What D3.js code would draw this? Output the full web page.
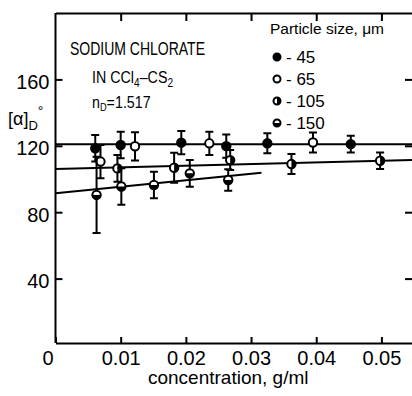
<!DOCTYPE html>
<html>
<head>
<meta charset="utf-8">
<script src="https://cdn.jsdelivr.net/npm/d3@7"></script>
<style>
  body { margin: 0; background: #fff; }
  svg { display: block; font-family: "Liberation Sans", Arial, sans-serif; }
  .axis path, .axis line { stroke: #000; stroke-width: 2; }
  .axis text { font-size: 20px; fill: #000; }
</style>
</head>
<body>
<svg width="412" height="396"></svg>
<script>
// particle size series: concentration (g/ml), [alpha]D, error half-width
const conc45 = [0.0061, 0.0100, 0.0193, 0.0262, 0.0325, 0.0453];
const rot45 = [118.5, 120.5, 121.9, 119.8, 121.5, 121];
const err45 = [8, 8, 7, 7, 6, 5];

const conc65 = [0.0069, 0.0122, 0.0236, 0.0395];
const rot65 = [110.5, 119.7, 121.5, 122];
const err65 = [10, 8.5, 7, 6];

const conc105 = [0.0095, 0.0182, 0.0268, 0.0362, 0.0498];
const rot105 = [106.4, 106.8, 111.4, 109, 111];
const err105 = [8, 9, 6, 6, 5];

const conc150 = [0.0063, 0.0101, 0.0151, 0.0206, 0.0265];
const rot150 = [90.4, 95.5, 96.4, 103.4, 99.4];
const err150 = [23, 11, 8, 8, 6.5];

// fitted lines (start and end)
const fit45 = [[0, 121], [0.055, 121]];
const fit105 = [[0, 106], [0.055, 111.5]];
const fit150 = [[0, 91.4], [0.0316, 103.8]];

const xTicks = [0, 0.01, 0.02, 0.03, 0.04, 0.05];
const yTicks = [40, 80, 120, 160];
const sizes = ['45', '65', '105', '150'];

const svg = d3.select('body svg');
const plotLeft = 55.5, plotRight = 414, plotTop = 13, plotBottom = 343;

const x = d3.scaleLinear().domain([0, 0.055]).range([plotLeft, plotRight]);
const y = d3.scaleLinear().domain([0, 200]).range([345, 13]);

// frame
svg.append('g')
    .attr('class', 'axis')
    .attr('transform', `translate(0, ${plotBottom})`)
    .call(d3.axisBottom(x).tickValues(xTicks).tickSizeInner(-6).tickSizeOuter(0).tickPadding(8)
        .tickFormat(d => d === 0 ? '0' : d3.format('.2f')(d)))
    .call(g => g.selectAll('text').attr('font-size', 19.5))
    .call(g => g.selectAll('.tick').filter(d => d === 0).select('text').attr('x', -8));

svg.append('g')
    .attr('class', 'axis')
    .attr('transform', `translate(0, ${plotTop})`)
    .call(d3.axisTop(x).tickValues(xTicks.slice(1)).tickSizeInner(-8).tickSizeOuter(0).tickFormat(''));

svg.append('g')
    .attr('class', 'axis')
    .attr('transform', `translate(${plotLeft}, 0)`)
    .call(d3.axisLeft(y).tickValues(yTicks).tickSizeInner(-7).tickSizeOuter(0).tickPadding(6))
    .call(g => g.select('.domain').attr('d', `M0,${plotBottom}V${plotTop}`))
    .call(g => g.selectAll('text').attr('font-size', 21).attr('dy', '0.45em'));

svg.append('g')
    .attr('class', 'axis')
    .attr('transform', `translate(${plotRight}, 0)`)
    .call(d3.axisRight(y).tickValues(yTicks).tickSizeInner(-9).tickSizeOuter(0).tickFormat(''));

// fitted lines
const line = d3.line().x(d => x(d[0])).y(d => y(d[1]));
[fit45, fit105, fit150].forEach(f => {
  svg.append('path')
      .attr('d', line(f))
      .attr('fill', 'none')
      .attr('stroke', '#000')
      .attr('stroke-width', 2);
});

function marker(g, kind, r) {
  g.append('circle').attr('r', r)
      .attr('fill', kind === '45' ? '#000' : '#fff')
      .attr('stroke', '#000').attr('stroke-width', 2);
  if (kind === '105') {
    g.append('path').attr('d', `M0,${-r}A${r},${r} 0 0,1 0,${r}Z`).attr('fill', '#000');
  }
  if (kind === '150') {
    g.append('path').attr('d', `M${-r},0A${r},${r} 0 0,0 ${r},0Z`).attr('fill', '#000');
  }
}

const series = [
  { kind: '45', cx: conc45, cy: rot45, e: err45 },
  { kind: '65', cx: conc65, cy: rot65, e: err65 },
  { kind: '105', cx: conc105, cy: rot105, e: err105 },
  { kind: '150', cx: conc150, cy: rot150, e: err150 }
];

series.forEach(s => {
  const pts = s.cx.map((c, i) => ({ c: c, v: s.cy[i], e: s.e[i] }));
  const pt = svg.selectAll(null).data(pts)
      .enter().append('g')
      .attr('transform', d => `translate(${x(d.c)}, 0)`);
  pt.append('path')
      .attr('d', d => `M0,${y(d.v + d.e)}V${y(d.v - d.e)}M-4,${y(d.v + d.e)}H4M-4,${y(d.v - d.e)}H4`)
      .attr('stroke', '#000')
      .attr('stroke-width', 2)
      .attr('fill', 'none');
  pt.each(function(d) {
    marker(d3.select(this).append('g').attr('transform', `translate(0, ${y(d.v)})`), s.kind, 4.2);
  });
});

// annotations
const note = svg.append('g').attr('fill', '#000');
note.append('text').attr('x', 70).attr('y', 55).attr('font-size', 17.5)
    .attr('textLength', 135).attr('lengthAdjust', 'spacingAndGlyphs').text('SODIUM CHLORATE');
const t2 = note.append('text').attr('transform', 'translate(92, 83) scale(0.84, 1)').attr('font-size', 17);
t2.append('tspan').text('IN CCl');
t2.append('tspan').attr('dy', 4).attr('font-size', 12).text('4');
t2.append('tspan').attr('dy', -4).text('\u2013CS');
t2.append('tspan').attr('dy', 4).attr('font-size', 12).text('2');
const t3 = note.append('text').attr('transform', 'translate(92, 108) scale(0.84, 1)').attr('font-size', 17);
t3.append('tspan').text('n');
t3.append('tspan').attr('dy', 3).attr('font-size', 11).text('D');
t3.append('tspan').attr('dy', -3).text('=1.517');

// y label
const yl = svg.append('text').attr('x', 8).attr('y', 125).attr('font-size', 18);
yl.append('tspan').text('[\u03b1]');
yl.append('tspan').attr('dy', 5).attr('font-size', 13).text('D');
yl.append('tspan').attr('dy', -14).attr('font-size', 14).text('\u00b0');

// x label
svg.append('text')
    .attr('x', x(0.0265)).attr('y', 384)
    .attr('text-anchor', 'middle')
    .attr('font-size', 19)
    .text('concentration, g/ml');

// legend
const legend = svg.append('g');
legend.append('text').attr('x', 270).attr('y', 34).attr('font-size', 15.5)
    .text('Particle size, \u03bcm');
const item = legend.selectAll(null).data(sizes)
    .enter().append('g')
    .attr('transform', (d, i) => `translate(277, ${57 + i * 22})`);
item.each(function(d) { marker(d3.select(this), d, 3.5); });
item.append('text')
    .attr('x', 9).attr('y', 6).attr('font-size', 17)
    .text(d => '- ' + d);
</script>
</body>
</html>
